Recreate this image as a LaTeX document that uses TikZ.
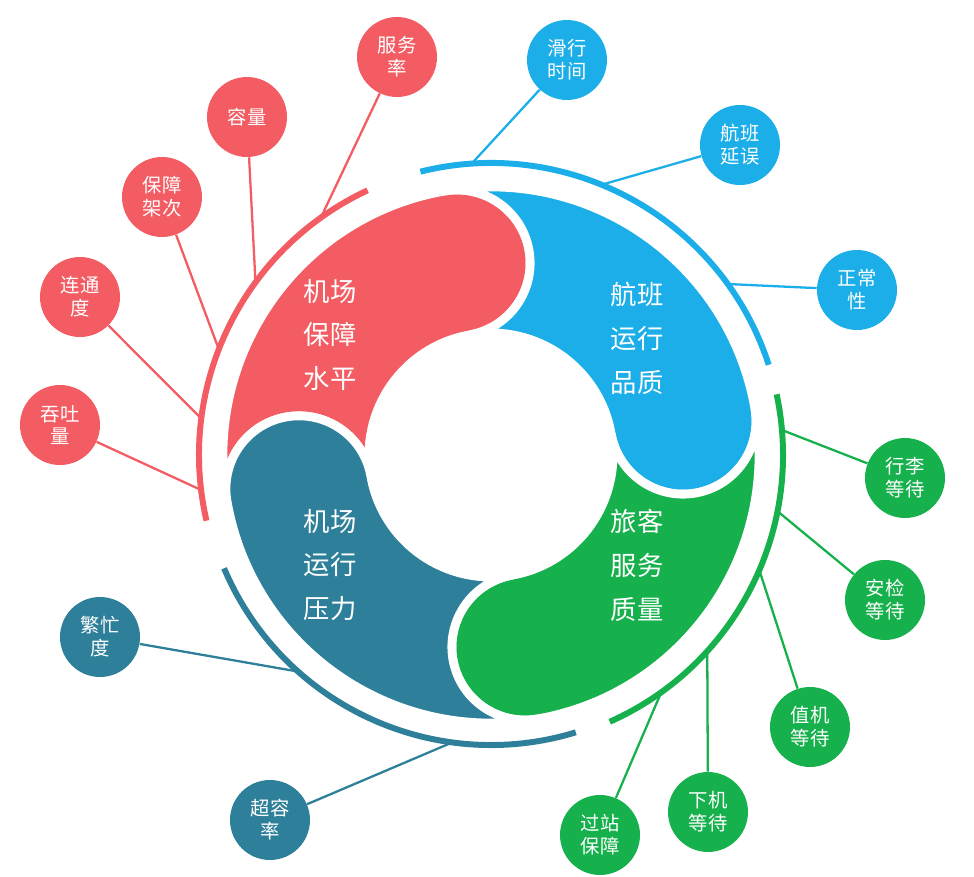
\documentclass[tikz,border=0pt]{standalone}
\usepackage{fontspec}
\setmainfont{Noto Sans CJK SC}
\usetikzlibrary{positioning}
\definecolor{cRed}{HTML}{F25C62}
\definecolor{cBlue}{HTML}{1BAEE8}
\definecolor{cGreen}{HTML}{16B04C}
\definecolor{cTeal}{HTML}{2E7F99}
\tikzset{
  bubble/.style={circle, fill=#1, text=white, minimum size=1.6cm, inner sep=0pt,
    align=center, font=\fontsize{11}{13}\selectfont},
  segtext/.style={text=white, align=center, font=\fontsize{15}{25}\selectfont},
  spoke/.style={draw=#1, line width=1.3pt},
  rim/.style={draw=#1, line width=3.4pt}
}
\begin{document}
\begin{tikzpicture}[x=0.02cm, y=0.02cm]
    \useasboundingbox (0,0) rectangle (974,876);
    \coordinate (C) at (491,421);

    % Segments of the wheel
    \begin{scope}[shift={(C)}]
        \foreach \m/\col in {145/cRed, 55/cBlue, -35/cGreen, -125/cTeal}{
            \pgfmathsetmacro{\ai}{\m-45}
            \pgfmathsetmacro{\aii}{\m+45}
            \filldraw[fill=\col, draw=white, line width=5pt]
                (\aii:268) arc[start angle=\aii, end angle=\ai, radius=268]
                arc[start angle=\ai, end angle=\ai-180, radius=73]
                arc[start angle=\ai, end angle=\aii, radius=122]
                arc[start angle=\aii+180, end angle=\aii+360, radius=73] -- cycle;
        }
        % Outer rims
        \draw[rim=cRed] (115:292) arc[start angle=115, end angle=193, radius=292];
        \draw[rim=cBlue] (104:292) arc[start angle=104, end angle=18, radius=292];
        \draw[rim=cGreen] (12:292) arc[start angle=12, end angle=-66, radius=292];
        \draw[rim=cTeal] (-73:290) arc[start angle=-73, end angle=-157, radius=290];
        % Ends of the spokes
        \foreach \a/\n in {126/r1, 144/r2, 159/r3, 173/r4, 187/r5,
                           94/b1, 68/b2, 36/b3,
                           5/g1, -11/g2, -23/g3, -42/g4, -54/g5,
                           -132/t1, -98/t2}{
            \coordinate (\n) at (\a:291);
        }
    \end{scope}

    % Segment labels
    \node[segtext] (red)   at (330,541) {机场\\保障\\水平};
    \node[segtext] (blue)  at (637,538) {航班\\运行\\品质};
    \node[segtext] (green) at (637,311) {旅客\\服务\\质量};
    \node[segtext] (teal)  at (330,311) {机场\\运行\\压力};

    % Red group
    \node[bubble=cRed] (fuwu)   at (397,819) {服务\\率};
    \node[bubble=cRed] (rongl)  at (247,759) {容量};
    \node[bubble=cRed] (baoz)   at (162,679) {保障\\架次};
    \node[bubble=cRed] (liant)  at (80,579)  {连通\\度};
    \node[bubble=cRed] (tunt)   at (60,451)  {吞吐\\量};
    \foreach \b/\e in {fuwu/r1, rongl/r2, baoz/r3, liant/r4, tunt/r5}
        \draw[spoke=cRed] (\b) -- (\e);

    % Blue group
    \node[bubble=cBlue] (huax)  at (567,816) {滑行\\时间};
    \node[bubble=cBlue] (yanw)  at (740,731) {航班\\延误};
    \node[bubble=cBlue] (zhengc) at (857,586) {正常\\性};
    \foreach \b/\e in {huax/b1, yanw/b2, zhengc/b3}
        \draw[spoke=cBlue] (\b) -- (\e);

    % Green group
    \node[bubble=cGreen] (xingl) at (905,398) {行李\\等待};
    \node[bubble=cGreen] (anj)   at (885,276) {安检\\等待};
    \node[bubble=cGreen] (zhij)  at (810,149) {值机\\等待};
    \node[bubble=cGreen] (xiaj)  at (708,64)  {下机\\等待};
    \node[bubble=cGreen] (guoz)  at (600,41)  {过站\\保障};
    \foreach \b/\e in {xingl/g1, anj/g2, zhij/g3, xiaj/g4, guoz/g5}
        \draw[spoke=cGreen] (\b) -- (\e);

    % Teal group
    \node[bubble=cTeal] (fanm)  at (100,239) {繁忙\\度};
    \node[bubble=cTeal] (chaor) at (270,56)  {超容\\率};
    \foreach \b/\e in {fanm/t1, chaor/t2}
        \draw[spoke=cTeal] (\b) -- (\e);
\end{tikzpicture}
\end{document}
